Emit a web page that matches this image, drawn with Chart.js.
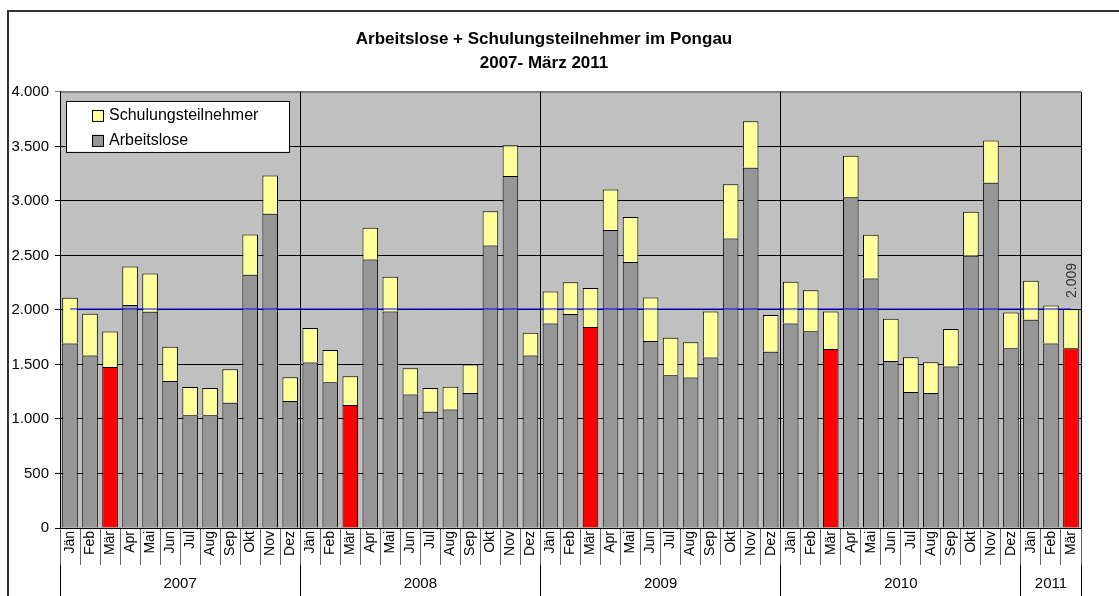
<!DOCTYPE html>
<html lang="de">
<head>
<meta charset="utf-8">
<title>Arbeitslose + Schulungsteilnehmer im Pongau</title>
<script src="https://cdn.jsdelivr.net/npm/chart.js@4.4.1/dist/chart.umd.min.js"></script>
<style>
  html, body { margin: 0; padding: 0; background: #fff; }
</style>
</head>
<body>
<canvas id="grafik" width="1119" height="596"></canvas>
<script>
// Daten
const monate = ["Jän", "Feb", "Mär", "Apr", "Mai", "Jun", "Jul", "Aug", "Sep", "Okt", "Nov", "Dez"];
const jahre = ["2007", "2008", "2009", "2010", "2011"];
const monateProJahr = [12, 12, 12, 12, 3];
const kategorien = [...monate, ...monate, ...monate, ...monate, "Jän", "Feb", "Mär"];

const arbeitslose = [
  1693, 1583, 1478, 2046, 1984, 1349, 1034, 1034, 1150, 2322, 2883, 1164,
  1518, 1337, 1129, 2463, 1985, 1224, 1067, 1086, 1239, 2592, 3230, 1583,
  1877, 1963, 1843, 2733, 2441, 1715, 1402, 1380, 1564, 2656, 3304, 1617,
  1877, 1804, 1641, 3034, 2288, 1531, 1248, 1239, 1482, 2497, 3166, 1650,
  1911, 1693, 1650,
];
const schulungsteilnehmer = [
  420, 383, 325, 353, 350, 313, 260, 251, 307, 371, 350, 219,
  316, 295, 264, 291, 319, 242, 218, 209, 261, 313, 282, 208,
  292, 291, 359, 371, 412, 399, 344, 325, 421, 497, 426, 337,
  381, 377, 344, 380, 402, 389, 319, 282, 343, 405, 389, 326,
  356, 347, 359,
];
// blaue Linie = Stand März 2011
const linienWert = 2009;
const yTicks = [0, 500, 1000, 1500, 2000, 2500, 3000, 3500, 4000];

// Farben
const grau = "#969696";
const gelb = "#ffff99";
const rot = "#ff0000";
const schrift = "'Liberation Sans', Arial, sans-serif";

Chart.defaults.font.family = schrift;
Chart.defaults.color = "#000";

// Tausenderpunkt
function fmt(v) {
  return String(v).replace(/\B(?=(\d{3})+(?!\d))/g, ".");
}

// Jahresgrenzen und -mitten für die zweite x-Achse
const grenzen = [-0.5];
const mitten = [];
let start = -0.5;
monateProJahr.forEach((n) => {
  mitten.push(start + n / 2);
  start += n;
  grenzen.push(start);
});

// weißer Hintergrund, Rahmen, graue Zeichenfläche
const hintergrund = {
  id: "hintergrund",
  beforeDraw(chart) {
    const { ctx, chartArea: a } = chart;
    ctx.save();
    ctx.fillStyle = "#fff";
    ctx.fillRect(0, 0, chart.width, chart.height);
    ctx.strokeStyle = "#333";
    ctx.lineWidth = 2;
    ctx.strokeRect(8, 11, chart.width + 20, chart.height + 20);
    ctx.fillStyle = "#c0c0c0";
    ctx.fillRect(a.left, a.top, a.width, a.height);
    ctx.strokeStyle = "#808080";
    ctx.lineWidth = 1;
    ctx.strokeRect(a.left + 0.5, a.top + 0.5, a.width, a.height);
    ctx.restore();
  },
};

// Legende im Diagramm (weißer Kasten)
const legende = {
  id: "legende",
  beforeDatasetsDraw(chart) {
    const { ctx, chartArea: a } = chart;
    const x = a.left + 6;
    const y = a.top + 9;
    ctx.save();
    ctx.fillStyle = "#fff";
    ctx.fillRect(x, y, 223, 51);
    ctx.strokeStyle = "#000";
    ctx.lineWidth = 1;
    ctx.strokeRect(x + 0.5, y + 0.5, 223, 51);
    const eintraege = [
      [chart.data.datasets[1].label, gelb],
      [chart.data.datasets[0].label, grau],
    ];
    ctx.font = "16px " + schrift;
    ctx.textBaseline = "middle";
    eintraege.forEach(([text, farbe], i) => {
      const cy = y + 14 + i * 25;
      ctx.fillStyle = farbe;
      ctx.fillRect(x + 26, cy - 5, 11, 11);
      ctx.strokeStyle = "#000";
      ctx.strokeRect(x + 26.5, cy - 4.5, 11, 11);
      ctx.fillStyle = "#000";
      ctx.fillText(text, x + 43, cy + 1);
    });
    ctx.restore();
  },
};

// Wert über dem letzten Balken
const wertLabel = {
  id: "wertLabel",
  afterDatasetsDraw(chart) {
    const { ctx } = chart;
    const meta = chart.getDatasetMeta(1);
    const i = meta.data.length - 1;
    const bar = meta.data[i];
    ctx.save();
    ctx.translate(bar.x + 1, bar.y - 11);
    ctx.rotate(-Math.PI / 2);
    ctx.font = "14px " + schrift;
    ctx.fillStyle = "#333";
    ctx.textAlign = "left";
    ctx.textBaseline = "middle";
    ctx.fillText(fmt(arbeitslose[i] + schulungsteilnehmer[i]), 0, 0);
    ctx.restore();
  },
};

const ctx = document.getElementById("grafik");

new Chart(ctx, {
  type: "bar",
  data: {
    labels: kategorien,
    datasets: [
      {
        label: "Arbeitslose",
        data: arbeitslose,
        xAxisID: "x",
        backgroundColor: (c) => (kategorien[c.dataIndex] === "Mär" ? rot : grau),
        borderColor: "#000",
        borderWidth: 1,
        order: 1,
      },
      {
        label: "Schulungsteilnehmer",
        data: schulungsteilnehmer,
        xAxisID: "x",
        backgroundColor: gelb,
        borderColor: "#000",
        borderWidth: 1,
        order: 1,
      },
      {
        type: "line",
        label: "Stand März 2011",
        data: kategorien.map(() => linienWert),
        xAxisID: "x",
        borderColor: "#0000ff",
        borderWidth: 1,
        pointRadius: 0,
        order: 0,
      },
    ],
  },
  options: {
    responsive: false,
    animation: false,
    layout: { padding: { left: 7, right: 38, top: 0, bottom: 0 } },
    datasets: {
      bar: { barPercentage: 0.78, categoryPercentage: 1 },
    },
    plugins: {
      legend: { display: false },
      tooltip: { enabled: false },
      title: {
        display: true,
        text: ["Arbeitslose + Schulungsteilnehmer im Pongau", "2007- März 2011"],
        color: "#000",
        font: { size: 17, weight: "bold", lineHeight: 1.41 },
        padding: { top: 27, bottom: 17 },
      },
    },
    scales: {
      x: {
        type: "category",
        stacked: true,
        weight: 0,
        offset: true,
        grid: {
          offset: true,
          drawOnChartArea: false,
          tickLength: 37,
          color: "#666",
        },
        border: { color: "#000" },
        ticks: {
          autoSkip: false,
          minRotation: 90,
          maxRotation: 90,
          padding: -34,
          font: { size: 14 },
          color: "#000",
        },
        afterFit(s) {
          s.height = 37;
        },
      },
      x2: {
        type: "linear",
        position: "bottom",
        weight: 1,
        min: -0.5,
        max: 50.5,
        offset: false,
        grid: {
          offset: false,
          drawOnChartArea: true,
          tickLength: 35,
          color: (c) => (c.tick && grenzen.includes(c.tick.value) ? "#000" : "rgba(0,0,0,0)"),
        },
        border: { display: false },
        afterBuildTicks(s) {
          s.ticks = [...grenzen, ...mitten].sort((a, b) => a - b).map((v) => ({ value: v }));
        },
        ticks: {
          autoSkip: false,
          maxRotation: 0,
          padding: -25,
          font: { size: 15 },
          color: "#000",
          callback: (v) => {
            const k = mitten.indexOf(v);
            return k >= 0 ? jahre[k] : "";
          },
        },
        afterFit(s) {
          s.height = 31;
        },
      },
      y: {
        stacked: true,
        min: 0,
        max: 4000,
        afterBuildTicks(s) {
          s.ticks = yTicks.map((v) => ({ value: v }));
        },
        grid: {
          tickLength: 5,
          color: (c) => (c.tick && c.tick.value === 4000 ? "#808080" : "#000"),
        },
        border: { color: "#000" },
        ticks: {
          padding: 6,
          font: { size: 15 },
          color: "#000",
          callback: (v) => fmt(v),
        },
        afterFit(s) {
          s.width = 53;
        },
      },
    },
  },
  plugins: [hintergrund, legende, wertLabel],
});
</script>
</body>
</html>
